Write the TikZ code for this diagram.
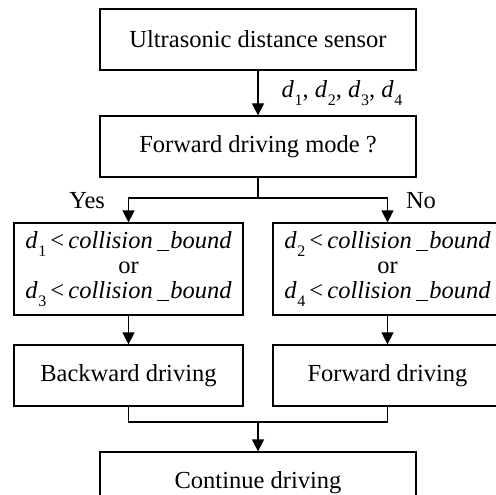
\documentclass[tikz,border=0pt]{standalone}
\usepackage{fontspec}
\setmainfont{Liberation Serif}
\usetikzlibrary{arrows.meta,positioning,calc}
\newcommand\dsub[1]{\textit{d}\kern0.03em\raisebox{-0.3em}{\fontsize{16}{16}\selectfont #1}}
\newcommand\cond[1]{\dsub{#1}\,<\,\textit{collision}\,\underline{\phantom{n}}\kern0.05em\textit{bound}}
\begin{document}
\begin{tikzpicture}[x=1pt,y=1pt,
  every node/.style={font=\fontsize{24.5}{25}\selectfont},
  box/.style={draw,line width=1.2pt,minimum width=316pt,minimum height=61pt,inner sep=0pt},
  sbox/.style={draw,line width=1.2pt,minimum width=229pt,minimum height=61pt,inner sep=0pt,align=center},
  line/.style={line width=1.2pt},
  arr/.style={line width=1.2pt,-{Triangle[length=12pt,width=12pt]}}]
\useasboundingbox (0,0) rectangle (496,-495);
\node[box] (sensor) at (258,-39.5) {Ultrasonic distance sensor};
\node[box] (mode) at (258,-146.5) {Forward driving mode ?};
\node[sbox,minimum height=92pt] (c1) at (128.5,-269) {\cond{1}\\or\\\cond{3}};
\node[sbox,minimum height=92pt] (c2) at (387.5,-269) {\cond{2}\\or\\\cond{4}};
\node[sbox] (back) at (128.5,-375.5) {Backward driving};
\node[sbox] (fwd) at (387.5,-375.5) {Forward driving};
\node[box] (cont) at (258,-482.5) {Continue driving};
\draw[arr] (sensor) -- (mode);
\node[anchor=west] (dl) at ($(sensor.south)!0.5!(mode.north)+(20,0)$) {\dsub{1}, \dsub{2}, \dsub{3}, \dsub{4}};
\coordinate (br) at (258,-198);
\draw[line] (mode.south) -- (br);
\draw[arr] (br) -| (c1.north);
\draw[arr] (br) -| (c2.north);
\node[anchor=east] (yes) at ($(br -| c1.north)+(-20,-3)$) {Yes};
\node[anchor=west] (no) at ($(br -| c2.north)+(15,-3)$) {No};
\draw[arr] (c1) -- (back);
\draw[arr] (c2) -- (fwd);
\coordinate (mj) at (258,-422);
\draw[line] (back.south) |- (mj);
\draw[line] (fwd.south) |- (mj);
\draw[arr] (mj) -- (cont);
\end{tikzpicture}
\end{document}
